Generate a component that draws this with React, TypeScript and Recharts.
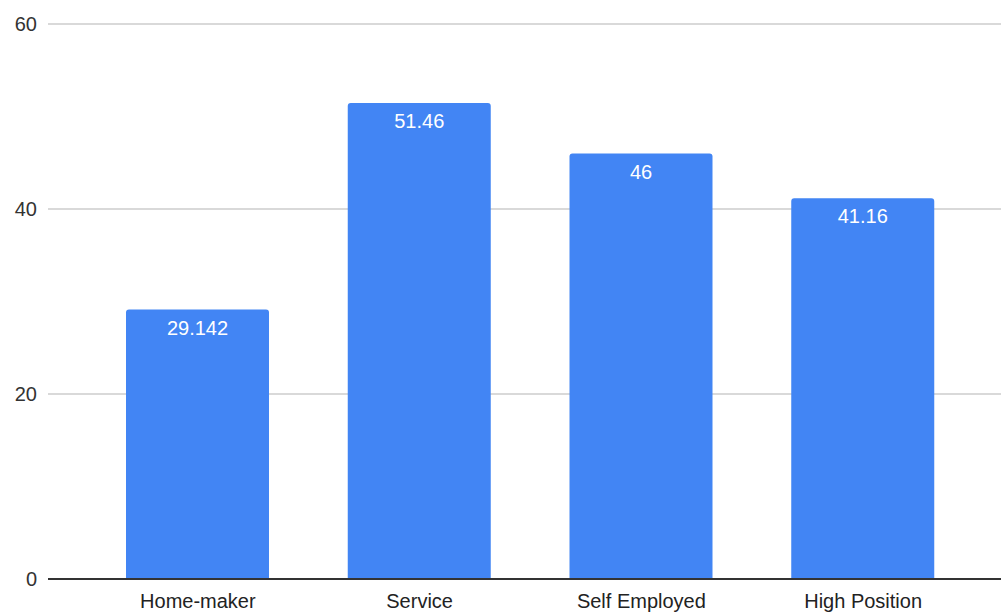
import React from 'react';
import {
  BarChart,
  Bar,
  XAxis,
  YAxis,
  CartesianGrid,
  LabelList,
} from 'recharts';

const categories = ['Home-maker', 'Service', 'Self Employed', 'High Position'];
const values = [29.142, 51.46, 46, 41.16];
const yTicks = [0, 20, 40, 60];

const data = categories.map((name, i) => ({ name, value: values[i] }));

const FONT = '"Liberation Sans", Arial, sans-serif';

export default function App() {
  return (
    <div style={{ position: 'absolute', left: 0, top: 0, fontFamily: FONT }}>
      <BarChart
        width={1001}
        height={614}
        data={data}
        margin={{ top: 24, right: 0, bottom: 0, left: 0 }}
      >
        <CartesianGrid
          vertical={false}
          stroke="#d9d9d9"
          strokeWidth={2}
        />
        <XAxis
          dataKey="name"
          height={35}
          padding={{ left: 39, right: 27 }}
          axisLine={{ stroke: '#333', strokeWidth: 2 }}
          tickLine={false}
          tickMargin={9}
          interval={0}
          tick={{ fill: '#222', fontSize: 20, fontFamily: FONT }}
        />
        <YAxis
          width={48}
          domain={[0, 60]}
          ticks={yTicks}
          axisLine={false}
          tickLine={false}
          tickMargin={5}
          tick={{ fill: '#333', fontSize: 20, fontFamily: FONT }}
        />
        <Bar
          dataKey="value"
          fill="#4285f4"
          barSize={143}
          radius={[3, 3, 0, 0]}
          isAnimationActive={false}
        >
          <LabelList
            dataKey="value"
            position="insideTop"
            offset={11}
            fill="#ffffff"
            fontSize={20}
            fontFamily={FONT}
          />
        </Bar>
      </BarChart>
    </div>
  );
}
